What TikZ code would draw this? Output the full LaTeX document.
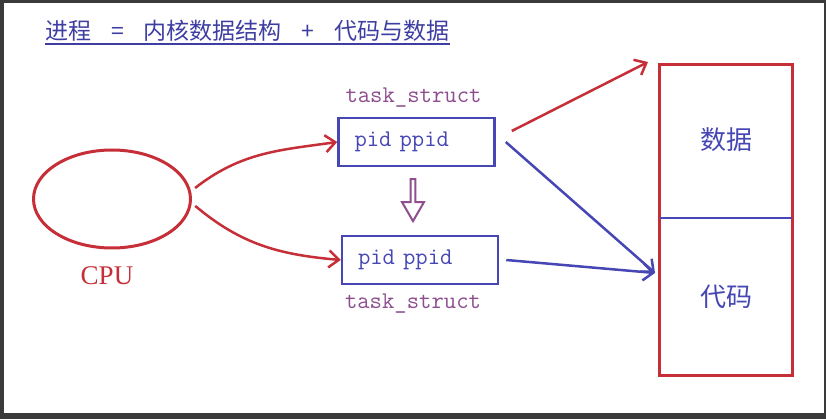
\documentclass[tikz,border=0pt]{standalone}
\usepackage{fontspec}
\usetikzlibrary{arrows.meta,positioning,shapes.geometric,shapes.arrows}
\newfontfamily\cjk{Noto Sans CJK SC}
\newfontfamily\cpufont{Liberation Serif}
\definecolor{frame}{HTML}{3A3A3A}
\definecolor{cpured}{HTML}{C62F38}
\definecolor{pcbblue}{HTML}{4646B4}
\definecolor{titleblue}{HTML}{3E3EA2}
\definecolor{plum}{HTML}{8E4E90}
\tikzset{pcb/.style={draw=pcbblue,line width=2.5pt,text width=124pt,inner xsep=16pt,inner ysep=0pt,minimum height=48pt,align=left,font=\ttfamily\fontsize{24}{26}\selectfont,text=pcbblue},tag/.style={inner sep=0pt,font=\ttfamily\fontsize{24}{26}\selectfont,text=plum},half/.style={minimum width=132pt,inner sep=0pt,font=\cjk\fontsize{26}{28}\selectfont,text=pcbblue},redflow/.style={-{Straight Barb[length=10pt,width=17pt,line width=2.5pt]},line width=2.5pt,draw=cpured},blueflow/.style={redflow,draw=pcbblue}}

\begin{document}
\begin{tikzpicture}[x=1pt,y=-1pt]
\useasboundingbox (0,0) rectangle (826,419);
\fill[frame] (0,0) rectangle (826,419);
\fill[white] (4,3) rectangle (824,413);
% title
\node[anchor=base west,inner sep=0pt,text=titleblue,font=\cjk\fontsize{23}{25}\selectfont] (title) at (45,40) {进程\hspace{20pt}=\hspace{20pt}内核数据结构\hspace{20pt}+\hspace{20pt}代码与数据};
\draw[titleblue,line width=1.5pt] ([yshift=-4pt]title.base west)--([yshift=-4pt]title.base east);
% cpu and the two task_struct boxes
\node[ellipse,draw=cpured,line width=3pt,minimum width=157pt,minimum height=98pt,inner sep=0pt] (cpu) at (112,199) {};
\node[text=cpured,font=\cpufont\fontsize{27}{29}\selectfont] (cpuname) at (107,276) {CPU};
\node[pcb] (pcb1) at (416.5,142) {pid ppid};
\node[pcb] (pcb2) at (420,260) {pid ppid};
\node[tag,above=9pt of pcb1,xshift=-3pt] (tag1) {task\_struct};
\node[tag,below=8pt of pcb2,xshift=-7pt] (tag2) {task\_struct};
\node[single arrow,draw=plum,line width=2pt,shape border rotate=270,minimum height=42pt,minimum width=22pt,single arrow head extend=3.5pt,single arrow tip angle=60,inner sep=0pt] (switch) at (413,198) {};
% memory: data over code
\node[half,minimum height=153pt] (data) at (726,141.5) {\raisebox{5pt}{数据}};
\node[half,minimum height=157pt,below=0pt of data] (code) {代码};
\draw[cpured,line width=3pt] (data.north west) rectangle (code.south east);
\draw[pcbblue,line width=2.5pt] (data.south west)--(data.south east);
\coordinate (datain) at (648,62);
\coordinate (codein) at (655,273);
% arrows
\draw[redflow] ([xshift=5pt]cpu.8) to[out=38,in=188] (pcb1.west);
\draw[redflow] ([xshift=4pt]cpu.-5) to[out=-40,in=175] (pcb2.west);
\draw[redflow] ([xshift=16pt,yshift=11pt]pcb1.east)--(datain);
\draw[blueflow] ([xshift=10pt]pcb1.east)--(codein);
\draw[blueflow] ([xshift=7pt]pcb2.east)--(codein);
\end{tikzpicture}
\end{document}
